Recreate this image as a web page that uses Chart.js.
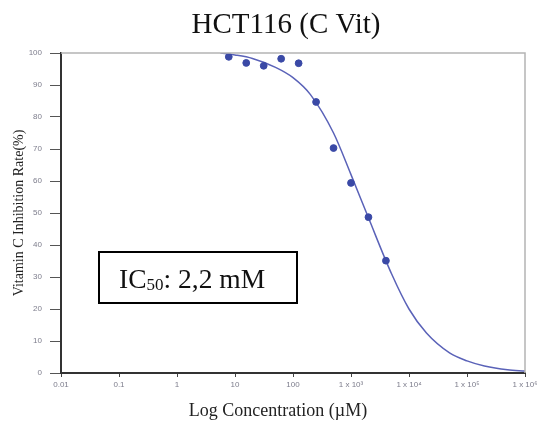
<!DOCTYPE html>
<html>
<head>
<meta charset="utf-8">
<script src="https://cdn.jsdelivr.net/npm/chart.js@4/dist/chart.umd.min.js"></script>
<style>
  html, body { margin: 0; padding: 0; background: #fff; }
  #wrap { width: 537px; height: 422px; }
</style>
</head>
<body>
<div id="wrap"><canvas id="ic50Chart" width="537" height="422"></canvas></div>
<script>
// measured inhibition (%) per concentration (µM)
const concentrations = [7.8125, 15.625, 31.25, 62.5, 125, 250, 500, 1000, 2000, 4000];
const inhibition = [98.8, 96.9, 96.0, 98.2, 96.8, 84.7, 70.3, 59.4, 48.7, 35.1];

// fitted dose-response curve
const curveConc = [5.6, 10, 20, 50, 100, 200, 500, 1000, 2000, 5000, 10000, 20000, 50000, 100000, 200000, 500000, 1000000];
const curveValues = [100, 99.4, 98.3, 95.5, 92.3, 87.0, 75.0, 62.0, 48.5, 31.0, 20.0, 12.5, 6.3, 3.8, 2.2, 1.0, 0.6];

const xTickValues = [0.01, 0.1, 1, 10, 100, 1000, 10000, 100000, 1000000];
const xTickLabels = ['0.01', '0.1', '1', '10', '100', '1 x 10³', '1 x 10⁴', '1 x 10⁵', '1 x 10⁶'];

const chartTitle = 'HCT116 (C Vit)';
const xTitle = 'Log Concentration (µM)';
const ic50Label = 'IC';
const ic50Sub = '50';
const ic50Text = ': 2,2 mM';

const serif = "'Liberation Serif', 'Times New Roman', serif";
const sans = "'Liberation Sans', Arial, sans-serif";

// titles, gray frame on top/right and the IC50 box
const framePlugin = {
  id: 'frame',
  afterDraw(chart) {
    const { ctx, chartArea: a } = chart;
    ctx.save();
    ctx.strokeStyle = '#b4b4b4';
    ctx.lineWidth = 1.5;
    ctx.beginPath();
    ctx.moveTo(a.left, a.top);
    ctx.lineTo(a.right, a.top);
    ctx.lineTo(a.right, a.bottom);
    ctx.stroke();

    ctx.fillStyle = '#111';
    ctx.textAlign = 'center';
    ctx.textBaseline = 'alphabetic';
    ctx.font = '29px ' + serif;
    ctx.fillText(chartTitle, a.left + 225, a.top - 20);
    ctx.fillStyle = '#222';
    ctx.font = '18px ' + serif;
    ctx.fillText(xTitle, a.left + 217, a.bottom + 43);

    const bx = a.left + 38, by = a.top + 199, bw = 198, bh = 51;
    ctx.strokeStyle = '#000';
    ctx.lineWidth = 2;
    ctx.fillStyle = '#fff';
    ctx.fillRect(bx, by, bw, bh);
    ctx.strokeRect(bx, by, bw, bh);

    ctx.fillStyle = '#111';
    ctx.textAlign = 'left';
    let tx = bx + 20;
    const base = by + 36;
    ctx.font = '27.5px ' + serif;
    ctx.fillText(ic50Label, tx, base);
    tx += ctx.measureText(ic50Label).width;
    ctx.font = '17px ' + serif;
    ctx.fillText(ic50Sub, tx, base + 2);
    tx += ctx.measureText(ic50Sub).width;
    ctx.font = '27.5px ' + serif;
    ctx.fillText(ic50Text, tx, base);
    ctx.restore();
  }
};

new Chart(document.getElementById('ic50Chart'), {
  data: {
    datasets: [
      {
        type: 'scatter',
        data: concentrations.map((c, i) => ({ x: c, y: inhibition[i] })),
        backgroundColor: '#3a49a6',
        borderColor: '#3a49a6',
        pointRadius: 3.4,
        pointHoverRadius: 3.4,
        order: 1
      },
      {
        type: 'line',
        data: curveConc.map((c, i) => ({ x: c, y: curveValues[i] })),
        borderColor: '#5a62b8',
        borderWidth: 1.5,
        pointRadius: 0,
        fill: false,
        cubicInterpolationMode: 'monotone',
        order: 2
      }
    ]
  },
  options: {
    responsive: false,
    animation: false,
    devicePixelRatio: 1,
    layout: { padding: { left: 0, right: 12, top: 53, bottom: 0 }, autoPadding: false },
    plugins: {
      legend: { display: false },
      tooltip: { enabled: false }
    },
    scales: {
      x: {
        type: 'logarithmic',
        min: 0.01,
        max: 1000000,
        afterBuildTicks: s => { s.ticks = xTickValues.map(v => ({ value: v })); },
        afterFit: s => { s.height = 49; s.paddingLeft = 0; s.paddingRight = 0; },
        border: { color: '#333', width: 2 },
        grid: { drawOnChartArea: false, drawTicks: true, tickLength: 4, color: '#444' },
        ticks: {
          autoSkip: false,
          maxRotation: 0,
          padding: 3,
          color: '#7d7d8c',
          font: { family: sans, size: 8 },
          callback: (v, i) => xTickLabels[i]
        }
      },
      y: {
        min: 0,
        max: 100,
        afterFit: s => { s.width = 61; s.paddingTop = 0; s.paddingBottom = 0; },
        border: { color: '#333', width: 2 },
        grid: { drawOnChartArea: false, drawTicks: true, tickLength: 11, color: '#555' },
        ticks: {
          stepSize: 10,
          padding: 8,
          color: '#7d7d8c',
          font: { family: sans, size: 8 }
        },
        title: {
          display: true,
          text: 'Vitamin C Inhibition Rate(%)',
          color: '#222',
          font: { family: serif, size: 14 },
          padding: { top: 10.6, bottom: 0 }
        }
      }
    }
  },
  plugins: [framePlugin]
});
</script>
</body>
</html>
